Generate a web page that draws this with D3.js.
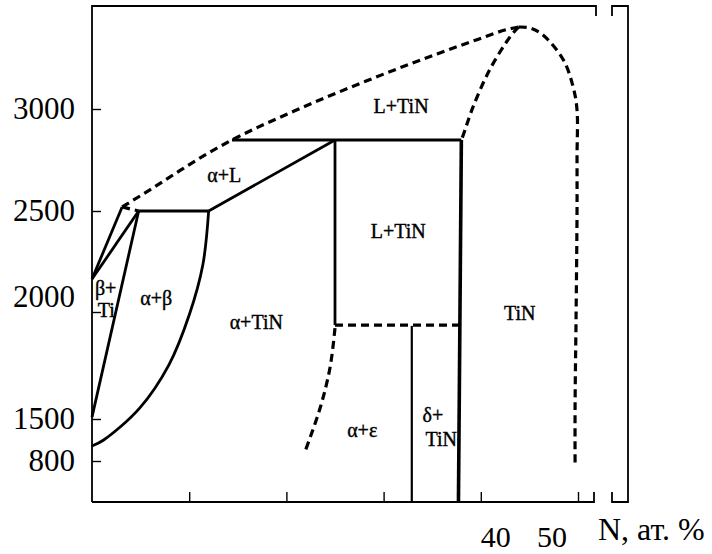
<!DOCTYPE html>
<html>
<head>
<meta charset="utf-8">
<script src="https://cdn.jsdelivr.net/npm/d3@7"></script>
<style>
  body { margin: 0; background: #fff; }
  text { font-family: "Liberation Serif", "Times New Roman", serif; fill: #000; }
</style>
</head>
<body>
<svg id="chart" width="712" height="554"></svg>
<script>
// axis ticks
const xTicks = [10, 20, 30, 40, 50];
const xTickLabels = [40, 50];
const yTicks = [800, 1500, 2000, 2500, 3000];

// phase boundaries, [N at.%, T]
const liquidus = [[3.1, 2520], [6.0, 2605], [9.1, 2700], [12.0, 2785], [14.6, 2853], [20.8, 2990],
    [28.2, 3137], [35.5, 3270], [39.2, 3333], [42.9, 3392], [43.9, 3402]];
const tinOuter = [[43.9, 3402], [45.1, 3397], [46.4, 3363], [48.5, 3240], [49.5, 3108], [49.9, 2995],
    [49.9, 2765], [49.9, 2495], [49.8, 1972], [49.7, 1561], [49.7, 776]];
const tinInner = [[43.9, 3402], [43.0, 3353], [40.9, 3191], [39.2, 3010], [38.2, 2873], [38.0, 2848]];
const alphaEps = [[25.0, 1925], [24.5, 1743], [23.5, 1556], [21.9, 950]];
const eutDashed = [[25.0, 1939], [37.9, 1939]];
const betaDashed = [[3.1, 2520], [4.8, 2500]];

const peritectic = [[14.4, 2848], [38.0, 2848]];
const solidusAL = [[12.0, 2500], [25.0, 2848]];
const vert25 = [[25.0, 2848], [25.0, 1939]];
const vert33 = [[32.9, 1935], [32.9, 600]];
const vert38 = [[38.0, 2848], [37.7, 600]];
const line2500 = [[4.8, 2500], [12.0, 2500]];
const alphaBeta = [[12.0, 2500], [11.4, 2233], [10.0, 1986], [7.9, 1752], [4.9, 1551], [1.2, 1150], [0, 1050]];
const alphaLine = [[4.8, 2500], [0, 1509]];
const betaTi = [[0, 2163], [4.8, 2500]];
const betaLine = [[0, 2163], [3.1, 2520]];

const regionLabels = [
    {text: "L+TiN", N: 31.8, T: 2980, anchor: "middle"},
    {text: "α+L", N: 13.6, T: 2642, anchor: "middle"},
    {text: "L+TiN", N: 31.5, T: 2366, anchor: "middle"},
    {text: "TiN", N: 44.0, T: 1963, anchor: "middle"},
    {text: "α+TiN", N: 16.9, T: 1921, anchor: "middle"},
    {text: "β+", N: 0.3, T: 2084, anchor: "start"},
    {text: "Ti", N: 0.6, T: 1977, anchor: "start"},
    {text: "α+β", N: 6.6, T: 2033, anchor: "middle"},
    {text: "α+ε", N: 27.8, T: 1200, anchor: "middle"},
    {text: "δ+", N: 34.0, T: 1450, anchor: "start"},
    {text: "TiN", N: 34.3, T: 1050, anchor: "start"}
];

function drawChart() {
    const svg = d3.select('#chart');
    const left = 92, top = 6, bottom = 502, right = 628;

    const x = d3.scaleLinear().domain([0, 50]).range([left, 578]);
    // the temperature axis of the figure is not uniform
    const y = d3.scaleLinear()
        .domain([600, 800, 1500, 2000, 2500, 3000, 3500])
        .range([bottom, 461, 419, 312, 211, 109, top + 1]);

    // frame with the axis break on the right
    svg.append('path')
        .attr('d', `M${left},${bottom}V${top}H596V16M612,16V${top}H${right}V${bottom}H612V492M594,492V${bottom}H${left}`)
        .attr('fill', 'none')
        .attr('stroke', '#000')
        .attr('stroke-width', 1.8);

    // ticks
    svg.append('g')
        .attr('transform', `translate(0,${bottom})`)
        .call(d3.axisBottom(x).tickValues(xTicks).tickSize(-10).tickSizeOuter(0).tickFormat(''))
        .call(g => g.select('.domain').remove())
        .selectAll('line').attr('stroke-width', 1.4);

    svg.append('g')
        .attr('transform', `translate(${left},0)`)
        .call(d3.axisLeft(y).tickValues(yTicks).tickSize(-9).tickSizeOuter(0).tickFormat(''))
        .call(g => g.select('.domain').remove())
        .selectAll('line').attr('stroke-width', 1.4);

    // tick labels
    svg.selectAll('.ylab')
        .data(yTicks)
        .enter().append('text')
        .attr('x', 75)
        .attr('y', d => y(d))
        .attr('dy', d => d === 2000 ? -5 : 10)
        .attr('text-anchor', 'end')
        .style('font-size', '31px')
        .text(d => d);

    const xShift = {40: 15, 50: -26};
    svg.selectAll('.xlab')
        .data(xTickLabels)
        .enter().append('text')
        .attr('x', d => x(d) + xShift[d])
        .attr('y', 547)
        .attr('text-anchor', 'middle')
        .style('font-size', '30px')
        .text(d => d);

    svg.append('text')
        .attr('x', 598)
        .attr('y', 540)
        .style('font-size', '32px')
        .text('N, ат. %');

    const line = d3.line().x(d => x(d[0])).y(d => y(d[1]));
    const smooth = c => d3.line().x(d => x(d[0])).y(d => y(d[1])).curve(c);

    const g = svg.append('g').attr('fill', 'none').attr('stroke', '#000');

    // solid boundaries
    [peritectic, solidusAL, vert25, line2500, alphaLine, betaTi, betaLine].forEach(d => {
        g.append('path').attr('d', line(d)).attr('stroke-width', 2.8);
    });
    g.append('path').attr('d', smooth(d3.curveCatmullRom.alpha(0.5))(alphaBeta)).attr('stroke-width', 2.8);
    g.append('path').attr('d', line(vert38)).attr('stroke-width', 3.6);
    g.append('path').attr('d', line(vert33)).attr('stroke-width', 2.2);

    // dashed boundaries
    const dashed = (path) => g.append('path').attr('d', path)
        .attr('stroke-width', 3.2)
        .attr('stroke-dasharray', '8,5');
    dashed(smooth(d3.curveMonotoneX)(liquidus));
    dashed(smooth(d3.curveCatmullRom)(tinOuter));
    dashed(smooth(d3.curveCatmullRom)(tinInner));
    dashed(smooth(d3.curveCatmullRom)(alphaEps));
    dashed(line(eutDashed));
    dashed(line(betaDashed));

    // phase region names
    svg.selectAll('.region')
        .data(regionLabels)
        .enter().append('text')
        .attr('x', d => x(d.N))
        .attr('y', d => y(d.T))
        .attr('text-anchor', d => d.anchor)
        .style('font-size', '20px')
        .style('stroke', '#000')
        .style('stroke-width', 0.4)
        .text(d => d.text);
}

drawChart();
</script>
</body>
</html>
